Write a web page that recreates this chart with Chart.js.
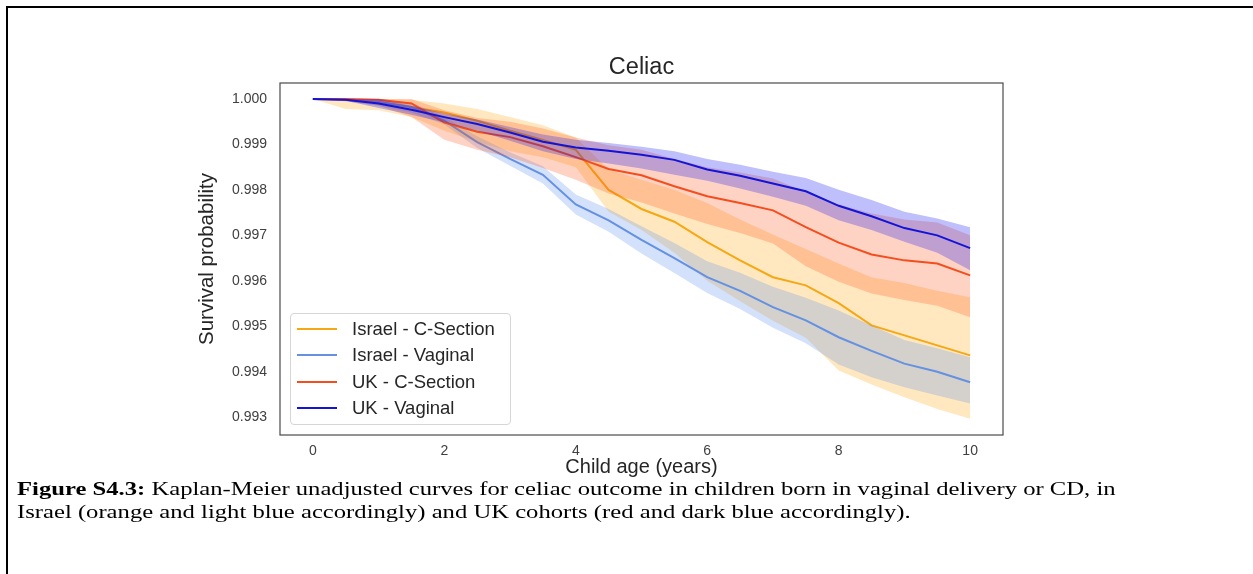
<!DOCTYPE html>
<html>
<head>
<meta charset="utf-8">
<script src="https://cdn.jsdelivr.net/npm/chart.js@4.4.0/dist/chart.umd.min.js"></script>
<style>
  html, body { margin: 0; padding: 0; background: #fff; }
  body { width: 1253px; height: 574px; position: relative; overflow: hidden; }
  .frame { position: absolute; left: 6px; top: 6px; width: 1300px; height: 600px;
           border-left: 2px solid #000; border-top: 2px solid #000; }
  #chart { position: absolute; left: 0; top: 0; }
  .legend { position: absolute; left: 290px; top: 313px; width: 221px; height: 112px;
            border: 1px solid #d6d6d6; border-radius: 4px; background: rgba(255,255,255,0.85);
            box-sizing: border-box; font-family: 'Liberation Sans', Arial, sans-serif;
            font-size: 18.5px; color: #262626; }
  .legend-row { position: absolute; left: 0; height: 20px; display: flex; align-items: center; white-space: nowrap; }
  .swatch { width: 40px; height: 2.5px; margin-left: 6px; margin-right: 15px; }
  /* the caption in the source is stretched sideways */
  .caption { position: absolute; left: 17px; top: 478px; font-family: 'Liberation Serif', 'Times New Roman', serif;
             font-size: 19px; line-height: 22.5px; color: #000; white-space: nowrap;
             transform: scaleX(1.297); transform-origin: 0 0; }
</style>
</head>
<body>
<div class="frame"></div>
<canvas id="chart" width="1253" height="574"></canvas>
<div class="legend" id="legend"></div>
<div class="caption">
  <div><b>Figure S4.3:</b> Kaplan-Meier unadjusted curves for celiac outcome in children born in vaginal delivery or CD, in</div>
  <div>Israel (orange and light blue accordingly) and UK cohorts (red and dark blue accordingly).</div>
</div>

<script>
// Data
const years = [0, 0.5, 1, 1.5, 2, 2.5, 3, 3.5, 4, 4.5, 5, 5.5, 6, 6.5, 7, 7.5, 8, 8.5, 9, 9.5, 10];
const xTickValues = [0, 2, 4, 6, 8, 10];
const yTickValues = [0.993, 0.994, 0.995, 0.996, 0.997, 0.998, 0.999, 1.000];

const seriesNames = ['Israel - C-Section', 'Israel - Vaginal', 'UK - C-Section', 'UK - Vaginal'];

const israelCsLine  = [1.0, 0.99998, 0.99993, 0.99982, 0.9997, 0.99952, 0.9993, 0.9991, 0.99888, 0.998, 0.99758, 0.9973, 0.99685, 0.99645, 0.99608, 0.9959, 0.99551, 0.99502, 0.9948, 0.99458, 0.99436];
const israelCsUpper = [1.0, 1.0, 1.0, 0.99998, 0.9999, 0.99978, 0.9996, 0.99942, 0.99915, 0.99845, 0.99822, 0.998, 0.99771, 0.99735, 0.99702, 0.9967, 0.99638, 0.99608, 0.99595, 0.99578, 0.99564];
const israelCsLower = [1.0, 0.99978, 0.99975, 0.9996, 0.9993, 0.99905, 0.99885, 0.99872, 0.9985, 0.99752, 0.99712, 0.99662, 0.996, 0.99555, 0.99512, 0.99475, 0.99403, 0.99372, 0.99344, 0.99318, 0.99297];

const israelVagLine  = [1.0, 0.99998, 0.99993, 0.99982, 0.99952, 0.99905, 0.99868, 0.99833, 0.99768, 0.99733, 0.9969, 0.9965, 0.99608, 0.99578, 0.99542, 0.99513, 0.99476, 0.99446, 0.99418, 0.994, 0.99377];
const israelVagUpper = [1.0, 1.0, 1.0, 0.99992, 0.9996, 0.99918, 0.99883, 0.99852, 0.9979, 0.99758, 0.9972, 0.99683, 0.99643, 0.99618, 0.99587, 0.99563, 0.99535, 0.99502, 0.9947, 0.99452, 0.99432];
const israelVagLower = [1.0, 0.99995, 0.99985, 0.9997, 0.99944, 0.99892, 0.99853, 0.99814, 0.99746, 0.99708, 0.9966, 0.99617, 0.99573, 0.99538, 0.99497, 0.99463, 0.99416, 0.99388, 0.99366, 0.99348, 0.9933];

const ukCsLine  = [1.0, 1.0, 0.99998, 0.9999, 0.99948, 0.99928, 0.99916, 0.99896, 0.99872, 0.99846, 0.99832, 0.99808, 0.99786, 0.99771, 0.99755, 0.99718, 0.99684, 0.99658, 0.99645, 0.99638, 0.99612];
const ukCsUpper = [1.0, 1.0, 1.0, 1.0, 0.99975, 0.99958, 0.9995, 0.99935, 0.99915, 0.99898, 0.99888, 0.99868, 0.9985, 0.99838, 0.99825, 0.99795, 0.99768, 0.99748, 0.99735, 0.99728, 0.997];
const ukCsLower = [1.0, 0.99995, 0.99985, 0.9996, 0.9991, 0.99888, 0.99872, 0.99848, 0.99822, 0.99792, 0.99772, 0.99748, 0.99725, 0.99705, 0.99682, 0.99632, 0.99598, 0.99572, 0.99558, 0.99545, 0.9952];

const ukVagLine  = [1.0, 0.99998, 0.9999, 0.99976, 0.9996, 0.99945, 0.99926, 0.99906, 0.99893, 0.99886, 0.99877, 0.99866, 0.99845, 0.99831, 0.99814, 0.99797, 0.99765, 0.99742, 0.99716, 0.997, 0.99672];
const ukVagUpper = [1.0, 1.0, 1.0, 0.99985, 0.99968, 0.99955, 0.99938, 0.99922, 0.9991, 0.99903, 0.99895, 0.99885, 0.99868, 0.99855, 0.9984, 0.99826, 0.998, 0.99778, 0.99752, 0.99737, 0.99718];
const ukVagLower = [1.0, 0.99996, 0.9998, 0.99965, 0.99948, 0.9993, 0.99908, 0.99885, 0.99868, 0.99858, 0.99847, 0.99833, 0.9982, 0.99803, 0.99785, 0.99765, 0.99733, 0.99712, 0.99686, 0.99662, 0.99623];

const lineColors = ['rgb(245,168,20)', 'rgb(100,145,225)', 'rgb(244,78,30)', 'rgb(20,20,215)'];
const bandColors = ['rgba(255,165,0,0.25)', 'rgba(100,149,237,0.28)', 'rgba(255,80,20,0.25)', 'rgba(20,20,240,0.27)'];

const groups = [
    [israelCsLine, israelCsUpper, israelCsLower],
    [israelVagLine, israelVagUpper, israelVagLower],
    [ukCsLine, ukCsUpper, ukCsLower],
    [ukVagLine, ukVagUpper, ukVagLower]
];

const pts = arr => arr.map((v, i) => ({ x: years[i], y: v }));
const FONT = "'Liberation Sans', Arial, sans-serif";

// matplotlib draws each series band then line in order; lower `order` is drawn on top
const datasets = [];
groups.forEach(([line, upper, lower], i) => {
    const base = 10 - i * 2;
    datasets.push({ label: seriesNames[i] + ' upper', data: pts(upper), borderWidth: 0, pointRadius: 0, fill: false, order: base + 1 });
    datasets.push({ label: seriesNames[i] + ' lower', data: pts(lower), borderWidth: 0, pointRadius: 0, fill: '-1', backgroundColor: bandColors[i], order: base + 1 });
    datasets.push({ label: seriesNames[i], data: pts(line), borderColor: lineColors[i], borderWidth: 2, pointRadius: 0, fill: false, order: base });
});

// axis box (spines)
const spines = {
    id: 'spines',
    afterDraw(chart) {
        const { ctx, chartArea: a } = chart;
        ctx.save();
        ctx.strokeStyle = '#4a4a4a';
        ctx.lineWidth = 1.2;
        ctx.strokeRect(a.left, a.top, a.right - a.left, a.bottom - a.top);
        ctx.restore();
    }
};

const ctx = document.getElementById('chart').getContext('2d');
new Chart(ctx, {
    type: 'line',
    data: { datasets },
    plugins: [spines],
    options: {
        responsive: false,
        animation: false,
        devicePixelRatio: 1,
        layout: { padding: { left: 180, right: 250, top: 0, bottom: 94 } },
        elements: { line: { tension: 0 } },
        plugins: {
            legend: { display: false },
            tooltip: { enabled: false },
            title: {
                display: true, text: 'Celiac', fullSize: false, color: '#262626',
                font: { family: FONT, size: 23.5, weight: 'normal' },
                padding: { top: 53, bottom: 1.8 }
            }
        },
        scales: {
            x: {
                type: 'linear', min: -0.5, max: 10.5,
                grid: { display: false, drawTicks: false }, border: { display: false },
                afterBuildTicks: s => { s.ticks = xTickValues.map(v => ({ value: v })); },
                afterFit: s => { s.height = 45; },
                ticks: { padding: 8, color: '#404040', font: { family: FONT, size: 14 }, callback: v => String(v) },
                title: { display: true, text: 'Child age (years)', color: '#262626',
                         font: { family: FONT, size: 20 }, padding: { top: 0, bottom: 1 } }
            },
            y: {
                type: 'linear', min: 0.99261, max: 1.00035,
                grid: { display: false, drawTicks: false }, border: { display: false },
                afterBuildTicks: s => { s.ticks = yTickValues.map(v => ({ value: v })); },
                afterFit: s => { s.width = 100; },
                ticks: { padding: 13, color: '#404040', font: { family: FONT, size: 14 }, callback: v => v.toFixed(3) },
                title: { display: true, text: 'Survival probability', color: '#262626',
                         font: { family: FONT, size: 20.5 }, padding: { top: 15, bottom: 0 } }
            }
        }
    }
});

// legend, built from the series names and colours
const legendEl = document.getElementById('legend');
const rowTops = [5, 31, 58, 84];
seriesNames.forEach((name, i) => {
    const row = document.createElement('div');
    row.className = 'legend-row';
    row.style.top = rowTops[i] + 'px';
    row.innerHTML = '<span class="swatch" style="background:' + lineColors[i] + '"></span><span>' + name + '</span>';
    legendEl.appendChild(row);
});
</script>
</body>
</html>
